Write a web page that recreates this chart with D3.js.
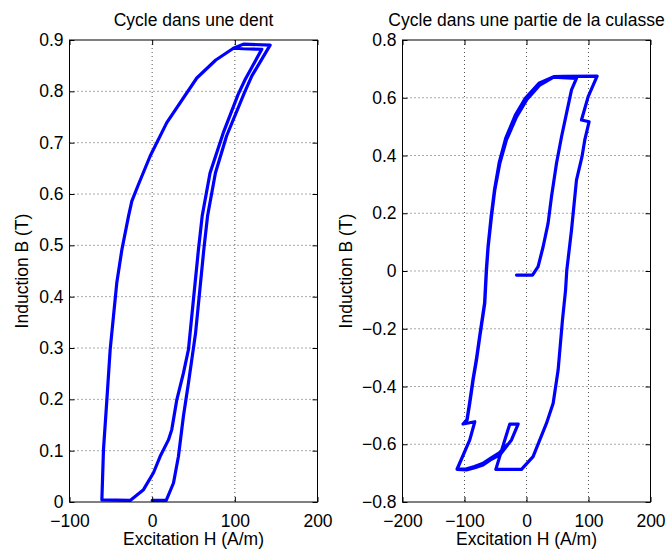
<!DOCTYPE html>
<html>
<head>
<meta charset="utf-8">
<script src="https://cdn.jsdelivr.net/npm/d3@7"></script>
<style>
  html, body { margin: 0; padding: 0; background: #fff; }
  svg { display: block; }
  text { font-family: "Liberation Sans", Arial, Helvetica, sans-serif; fill: #000; }
</style>
</head>
<body>
<svg id="chart" width="671" height="552"></svg>
<script>
// ---------- Data ----------
const leftTitle = "Cycle dans une dent";
const rightTitle = "Cycle dans une partie de la culasse";
const xLabel = "Excitation H (A/m)";
const yLabel = "Induction B (T)";

const leftXTicks = [-100, 0, 100, 200];
const leftYTicks = [0, 0.1, 0.2, 0.3, 0.4, 0.5, 0.6, 0.7, 0.8, 0.9];
const rightXTicks = [-200, -100, 0, 100, 200];
const rightYTicks = [-0.8, -0.6, -0.4, -0.2, 0, 0.2, 0.4, 0.6, 0.8];

// Left loop (tooth): H (A/m) and B (T)
const leftH = [0, 17, 25.8, 31.8, 37.8, 43.9, 52.5, 58.5, 62.5, 67, 76.5, 90, 111.5, 120.6, 142.7,
  110.4, 98.3, 77, 54, 17.7, -2.4, -16.5, -24.6, -28.6, -36.6, -42.8, -46.8, -50.8, -54.8, -58.9, -60.8,
  -60.8, -26.6, -10.5, 1.6, 9.7, 19.7, 23.7, 29.8, 37.8, 43.9, 49.9, 56, 60.5, 70, 86, 104, 112.5, 132.6,
  110, 98.3];
const leftB = [0.003, 0.003, 0.037, 0.089, 0.167, 0.232, 0.329, 0.427, 0.492, 0.557, 0.641, 0.713, 0.797, 0.830, 0.890,
  0.892, 0.884, 0.861, 0.826, 0.739, 0.674, 0.619, 0.586, 0.557, 0.492, 0.427, 0.362, 0.297, 0.199, 0.102, 0.006,
  0.004, 0.003, 0.024, 0.057, 0.089, 0.121, 0.141, 0.199, 0.251, 0.297, 0.394, 0.492, 0.557, 0.641, 0.719, 0.794, 0.823, 0.882,
  0.883, 0.884];

// Right loop (yoke): H (A/m) and B (T)
const rightH = [-16.1, 9.7, 18.7, 26.8, 34.8, 40.3, 48.4, 56.5, 64.5, 72.6, 80.6,
  43, 21.5, 0, -16.1, -32.3, -43, -51.1, -56.5, -61.8, -64.5, -67.3, -75.3, -80.6, -86, -91.5, -95.8,
  -102.3, -83.4, -91.5, -111.9,
  -96.8, -83.4, -70, -56.5, -43, -24.2, -13.5, -26.9, -35, -49.5, -8.1, 10.6, 32.3, 43, 51, 58, 63, 65,
  72.6, 80.6, 89.5, 94, 101, 88.7, 99.5, 113.9,
  60, 44, 20, -2, -18, -33.5, -44, -51.5, -57, -62, -64.8, -67.6, -75.6, -80.9, -86.3, -91.8, -96,
  -102.3, -83.4, -91.5, -111.9, -97.5, -84, -71, -57.5, -44, -30];
const rightB = [-0.014, -0.014, 0.015, 0.084, 0.165, 0.257, 0.373, 0.465, 0.546, 0.627, 0.667,
  0.671, 0.644, 0.592, 0.534, 0.454, 0.373, 0.281, 0.188, 0.084, 0.003, -0.112, -0.228, -0.308, -0.377, -0.458, -0.516,
  -0.530, -0.522, -0.585, -0.687,
  -0.689, -0.681, -0.672, -0.652, -0.637, -0.585, -0.530, -0.530, -0.585, -0.687, -0.687, -0.643, -0.527, -0.458, -0.343, -0.170, -0.066, 0.003,
  0.142, 0.315, 0.396, 0.454, 0.517, 0.523, 0.604, 0.675,
  0.674, 0.673, 0.650, 0.598, 0.540, 0.460, 0.376, 0.283, 0.190, 0.086, 0.005, -0.110, -0.226, -0.306, -0.375, -0.456, -0.514,
  -0.530, -0.522, -0.585, -0.685, -0.686, -0.677, -0.667, -0.648, -0.630, -0.600];

// ---------- Drawing ----------
const svg = d3.select("#chart");
const FS = 17.5;
const plotTop = 40, plotBottom = 502;

function panel(cfg) {
  const x = d3.scaleLinear().domain(cfg.xDomain).range([cfg.left, cfg.right]);
  const y = d3.scaleLinear().domain(cfg.yDomain).range([plotBottom, plotTop]);
  const g = svg.append("g");
  const fmtX = d => (d < 0 ? "\u2212" + Math.abs(d) : String(d));
  const fmtY = d => {
    if (d === 0) return "0";
    const s = d3.format(".1f")(Math.abs(d));
    return (d < 0 ? "\u2212" : "") + s;
  };

  // grid (dotted)
  g.append("g").selectAll("line").data(cfg.xTicks.filter(t => t > cfg.xDomain[0] && t < cfg.xDomain[1]))
    .join("line")
    .attr("x1", d => x(d)).attr("x2", d => x(d)).attr("y1", plotTop).attr("y2", plotBottom)
    .attr("stroke", "#555").attr("stroke-width", 1).attr("stroke-dasharray", "1,3");
  g.append("g").selectAll("line").data(cfg.yTicks.filter(t => t > cfg.yDomain[0] + 1e-9 && t < cfg.yDomain[1] - 1e-9))
    .join("line")
    .attr("x1", cfg.left).attr("x2", cfg.right).attr("y1", d => y(d)).attr("y2", d => y(d))
    .attr("stroke", "#555").attr("stroke-width", 1).attr("stroke-dasharray", "1,3");

  // data line
  const pts = cfg.H.map((h, i) => [h, cfg.B[i]]);
  g.append("path")
    .datum(pts)
    .attr("d", d3.line().x(d => x(d[0])).y(d => y(d[1])))
    .attr("fill", "none").attr("stroke", "#0000ff").attr("stroke-width", 3.2)
    .attr("stroke-linejoin", "round").attr("stroke-linecap", "round");

  // axes with inward ticks on all four sides
  const TL = 5;
  const axB = d3.axisBottom(x).tickValues(cfg.xTicks).tickSize(-TL).tickPadding(12).tickFormat(fmtX);
  const axT = d3.axisTop(x).tickValues(cfg.xTicks).tickSize(-TL).tickFormat("");
  const axL = d3.axisLeft(y).tickValues(cfg.yTicks).tickSize(-TL).tickPadding(6).tickFormat(fmtY);
  const axR = d3.axisRight(y).tickValues(cfg.yTicks).tickSize(-TL).tickFormat("");

  const gb = g.append("g").attr("transform", `translate(0,${plotBottom})`).call(axB);
  const gt = g.append("g").attr("transform", `translate(0,${plotTop})`).call(axT);
  const gl = g.append("g").attr("transform", `translate(${cfg.left},0)`).call(axL);
  const gr = g.append("g").attr("transform", `translate(${cfg.right},0)`).call(axR);
  [gb, gt, gl, gr].forEach(a => {
    a.select(".domain").remove();
    a.selectAll(".tick line").attr("stroke", "#000").attr("stroke-width", 1);
    a.selectAll("text").style("font-size", FS + "px").attr("fill", "#000")
      .style("font-family", '"Liberation Sans", Arial, sans-serif');
  });
  gb.selectAll("text").attr("dy", null).attr("y", 24.5).attr("dominant-baseline", "alphabetic");

  // box
  g.append("rect").attr("x", cfg.left).attr("y", plotTop)
    .attr("width", cfg.right - cfg.left).attr("height", plotBottom - plotTop)
    .attr("fill", "none").attr("stroke", "#000").attr("stroke-width", 1);

  // title
  g.append("text").attr("x", (cfg.left + cfg.right) / 2).attr("y", 26)
    .attr("text-anchor", "middle").style("font-size", FS + "px").text(cfg.title);
  // x label
  g.append("text").attr("x", (cfg.left + cfg.right) / 2).attr("y", 545)
    .attr("text-anchor", "middle").style("font-size", FS + "px").text(xLabel);
  // y label
  g.append("text")
    .attr("transform", `translate(${cfg.yLabelX},${(plotTop + plotBottom) / 2}) rotate(-90)`)
    .attr("text-anchor", "middle").style("font-size", FS + "px").text(yLabel);
}

panel({
  left: 69.5, right: 317.5, xDomain: [-100, 200], yDomain: [0, 0.9],
  xTicks: leftXTicks, yTicks: leftYTicks, H: leftH, B: leftB,
  title: leftTitle, yLabelX: 28
});
panel({
  left: 402.5, right: 650.5, xDomain: [-200, 200], yDomain: [-0.8, 0.8],
  xTicks: rightXTicks, yTicks: rightYTicks, H: rightH, B: rightB,
  title: rightTitle, yLabelX: 352
});
</script>
</body>
</html>
